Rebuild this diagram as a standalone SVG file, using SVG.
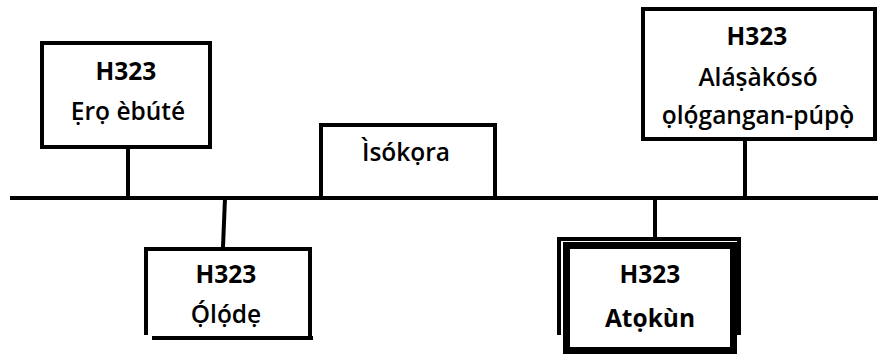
<svg xmlns="http://www.w3.org/2000/svg" width="878" height="354" viewBox="0 0 878 354">
<style>
.box{fill:#fff;stroke:#000;stroke-width:4}
.ln{fill:none;stroke:#000;stroke-width:4}
.t{font-family:"Open Sans","Noto Sans",sans-serif;font-size:24.5px;text-anchor:middle;fill:#000}
.b{font-weight:700}
.m{font-weight:600}
</style>
<rect width="878" height="354" fill="#fff"/>
<g id="connectors">
<line class="ln" x1="10" y1="198" x2="878" y2="198"/>
<line class="ln" x1="128" y1="148" x2="128" y2="198"/>
<line class="ln" x1="745" y1="140" x2="745" y2="198"/>
<line class="ln" x1="225" y1="198" x2="223" y2="247"/>
<line class="ln" x1="655" y1="198" x2="655" y2="237"/>
</g>
<g id="node-ero">
<rect class="box" x="42" y="43" width="168" height="104"/>
<text class="t b" x="126" y="80">H323</text>
<text class="t m" x="128" y="120">Ẹrọ èbúté</text>
</g>
<g id="node-isokora">
<path class="ln" d="M321 198 V125 H495 V198" fill="#fff"/>
<text class="t m" x="406" y="161">Ìsókọra</text>
</g>
<g id="node-alasakoso">
<rect class="box" x="643" y="9" width="232" height="130"/>
<text class="t b" x="757" y="45">H323</text>
<text class="t m" x="758" y="86">Aláṣàkósó</text>
<text class="t m" x="758" y="124">ọlọ́gangan-púpọ̀</text>
</g>
<g id="node-olode">
<path class="ln" d="M146 335 V249 H310 V338"/>
<line class="ln" x1="152" y1="338" x2="313" y2="338"/>
<text class="t b" x="226" y="283">H323</text>
<text class="t m" x="226" y="323">Ọ́lọ́dẹ</text>
</g>
<g id="node-atokun">
<path class="ln" d="M559 335 V239 H739 V335"/>
<rect x="566.5" y="245.5" width="167" height="105" fill="#fff" stroke="#000" stroke-width="7"/>
<text class="t b" x="650" y="283">H323</text>
<text class="t b" x="650" y="327">Atọkùn</text>
</g>
</svg>
